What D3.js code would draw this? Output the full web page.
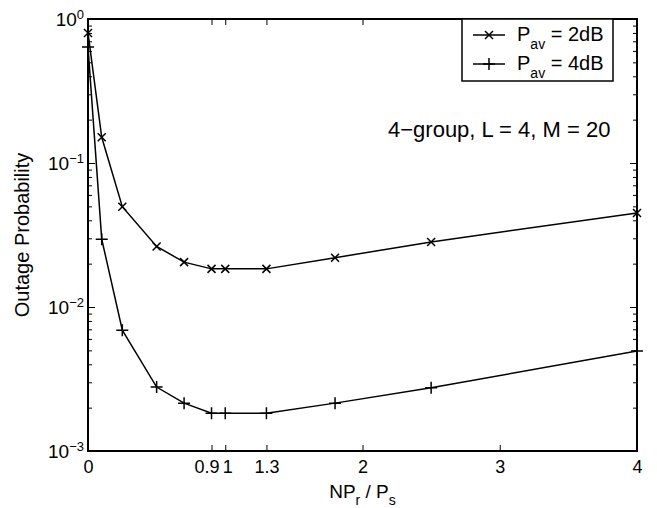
<!DOCTYPE html>
<html lang="en">
<head>
<meta charset="UTF-8">
<title>Outage Probability</title>
<style>
  body { margin: 0; background: #fff; }
  text { font-family: "Liberation Sans", Arial, Helvetica, sans-serif; fill: #000; }
</style>
</head>
<body>
<div id="chart"></div>
<script src="https://d3js.org/d3.v7.min.js"></script>
<script>
const xTicks = [0, 0.9, 1, 1.3, 2, 3, 4]
const yDecades = [1, 0.1, 0.01, 0.001]
const ratio = [0, 0.1, 0.25, 0.5, 0.7, 0.9, 1.0, 1.3, 1.8, 2.5, 4]
const p2dB = [0.80, 0.151, 0.0497, 0.0263, 0.0205, 0.0184, 0.0184, 0.0184, 0.0220, 0.0283, 0.045]
const p4dB = [0.64, 0.0296, 0.0069, 0.00278, 0.00215, 0.00183, 0.00183, 0.00183, 0.00215, 0.00275, 0.00494]
const seriesNames = ['2dB', '4dB']

const width = 657
const height = 508
const margin = { top: 19, right: 20, bottom: 57, left: 88 }

const svg = d3.select('#chart').append('svg')
  .attr('width', width)
  .attr('height', height)

const x = d3.scaleLinear().domain([0, 4]).range([margin.left, width - margin.right])
const y = d3.scaleLog().domain([1e-3, 1]).range([height - margin.bottom, margin.top])

// minor ticks for log axis
const minor = []
yDecades.slice(1).forEach(d => { for (let k = 2; k <= 9; k++) minor.push(d * k) })

const expOf = d => Math.round(Math.log10(d))

function yLabels(g) {
  g.selectAll('.tick text').each(function (d) {
    const t = d3.select(this).text('10').attr('font-size', 19).attr('dy', '0.36em')
    const e = expOf(d)
    t.append('tspan').attr('dy', '-0.55em').attr('font-size', 13)
      .text(e === 0 ? '0' : '\u2212' + Math.abs(e))
  })
}

// bottom axis
svg.append('g')
  .attr('transform', `translate(0,${height - margin.bottom})`)
  .call(d3.axisBottom(x).tickValues(xTicks).tickFormat(d3.format('')).tickSizeInner(-6).tickSizeOuter(0).tickPadding(9))
  .call(g => g.selectAll('text').attr('font-size', 18))
  .call(g => g.selectAll('.tick').filter(d => d === 0.9).select('text').attr('dx', -5))
  .call(g => g.selectAll('.tick').filter(d => d === 1).select('text').attr('dx', 2))
// top axis (ticks only)
svg.append('g')
  .attr('transform', `translate(0,${margin.top})`)
  .call(d3.axisTop(x).tickValues(xTicks).tickFormat('').tickSizeInner(-6).tickSizeOuter(0))

// left axis
svg.append('g')
  .attr('transform', `translate(${margin.left},0)`)
  .call(d3.axisLeft(y).tickValues(yDecades).tickSizeInner(-7).tickSizeOuter(0).tickPadding(4))
  .call(yLabels)
svg.append('g')
  .attr('transform', `translate(${margin.left},0)`)
  .call(d3.axisLeft(y).tickValues(minor).tickFormat('').tickSizeInner(-4).tickSizeOuter(0))
// right axis
svg.append('g')
  .attr('transform', `translate(${width - margin.right},0)`)
  .call(d3.axisRight(y).tickValues(yDecades).tickFormat('').tickSizeInner(-7).tickSizeOuter(0))
svg.append('g')
  .attr('transform', `translate(${width - margin.right},0)`)
  .call(d3.axisRight(y).tickValues(minor).tickFormat('').tickSizeInner(-4).tickSizeOuter(0))

svg.selectAll('.domain').remove()
svg.selectAll('.tick line').attr('stroke', '#000').attr('stroke-width', 1)

// frame
svg.append('rect')
  .attr('x', margin.left).attr('y', margin.top)
  .attr('width', width - margin.left - margin.right)
  .attr('height', height - margin.top - margin.bottom)
  .attr('fill', 'none').attr('stroke', '#000').attr('stroke-width', 2)

const line = d3.line().x(d => x(d[0])).y(d => y(d[1]))

function crossMark(g, s) {
  g.append('path').attr('d', `M${-s},${-s}L${s},${s}M${-s},${s}L${s},${-s}`)
}
function plusMark(g, s) {
  g.append('path').attr('d', `M${-s},0L${s},0M0,${-s}L0,${s}`)
}
const markers = [g => crossMark(g, 4), g => plusMark(g, 6)]

;[p2dB, p4dB].forEach((vals, i) => {
  const pts = ratio.map((r, j) => [r, vals[j]])
  svg.append('path').datum(pts)
    .attr('d', line)
    .attr('fill', 'none').attr('stroke', '#000').attr('stroke-width', 1.5)
  svg.append('g').selectAll('g').data(pts).join('g')
    .attr('transform', d => `translate(${x(d[0])},${y(d[1])})`)
    .attr('stroke', '#000').attr('stroke-width', 1.5).attr('fill', 'none')
    .each(function () { markers[i](d3.select(this)) })
})

// legend
const lg = svg.append('g').attr('transform', 'translate(462,19)')
lg.append('rect').attr('width', 151).attr('height', 62)
  .attr('fill', '#fff').attr('stroke', '#000').attr('stroke-width', 1.5)
seriesNames.forEach((name, i) => {
  const cy = 16 + i * 29
  const row = lg.append('g').attr('transform', `translate(0,${cy})`)
  row.append('line').attr('x1', 11).attr('x2', 43).attr('stroke', '#000').attr('stroke-width', 1.5)
  const m = row.append('g').attr('transform', 'translate(27,0)')
    .attr('stroke', '#000').attr('stroke-width', 1.5).attr('fill', 'none')
  markers[i](m)
  const t = row.append('text').attr('x', 55).attr('y', 6).attr('font-size', 20)
  t.append('tspan').text('P')
  t.append('tspan').attr('font-size', 14).attr('dy', 8).text('av')
  t.append('tspan').attr('dy', -8).text(' = ' + name)
})

// annotation
svg.append('text')
  .attr('x', 388).attr('y', 137)
  .attr('font-size', 22)
  .text('4\u2212group, L = 4, M = 20')

// axis titles
const xt = svg.append('text')
  .attr('x', x(2)).attr('y', 498)
  .attr('text-anchor', 'middle').attr('font-size', 19)
xt.append('tspan').text('NP')
xt.append('tspan').attr('font-size', 14).attr('dy', 7).text('r')
xt.append('tspan').attr('dy', -7).text(' / P')
xt.append('tspan').attr('font-size', 14).attr('dy', 7).text('s')

svg.append('text')
  .attr('transform', `translate(29,${(margin.top + height - margin.bottom) / 2}) rotate(-90)`)
  .attr('text-anchor', 'middle').attr('font-size', 20)
  .text('Outage Probability')
</script>
</body>
</html>
